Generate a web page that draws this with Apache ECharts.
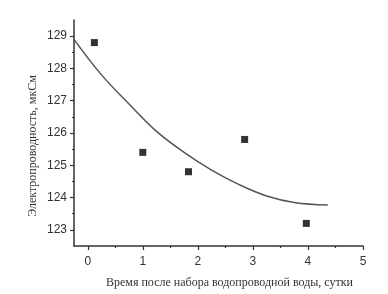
<!DOCTYPE html>
<html>
<head>
<meta charset="utf-8">
<script src="https://cdn.jsdelivr.net/npm/echarts@6/dist/echarts.min.js"></script>
<style>
html, body { margin: 0; padding: 0; background: #fff; }
#chart { width: 388px; height: 294px; }
</style>
</head>
<body>
<div id="chart"></div>
<script>
// измеренные точки
var pointX = [0.12, 1.0, 1.83, 2.85, 3.97];
var pointY = [128.8, 125.4, 124.8, 125.8, 123.2];
// аппроксимирующая кривая
var curveX = [-0.25, 0.25, 0.75, 1.25, 1.75, 2.25, 2.75, 3.25, 3.75, 4.36];
var curveY = [128.9, 127.8, 126.9, 126.05, 125.4, 124.85, 124.4, 124.05, 123.85, 123.77];
// подписи делений
var xTickLabels = [0, 1, 2, 3, 4, 5];
var yTickLabels = [123, 124, 125, 126, 127, 128, 129];
// диапазоны осей
var xRange = [-0.25, 5];
var yRange = [122.5, 129.5];

var xTitle = 'Время после набора водопроводной воды, сутки';
var yTitle = 'Электропроводность, мкСм';

// область построения, px
var L = 74, T = 20, R = 363, B = 246;
var pxX = (R - L) / (xRange[1] - xRange[0]);
var pxY = (B - T) / (yRange[1] - yRange[0]);
var xFirst = xTickLabels[0], xLast = xTickLabels[xTickLabels.length - 1];
var yFirst = yTickLabels[0], yLast = yTickLabels[yTickLabels.length - 1];
// сетка для делений и подписей (совпадает по масштабу с основной)
var g2Left = L + (xFirst - xRange[0]) * pxX;
var g2Right = R - (xRange[1] - xLast) * pxX;
var g2Bottom = B - (yFirst - yRange[0]) * pxY;
var g2Top = T + (yRange[1] - yLast) * pxY;

var axisColor = '#333';
var textColor = '#333';

var myChart = echarts.init(document.getElementById('chart'));

var curveData = [], pointData = [];
for (var i = 0; i < curveX.length; i++) curveData.push([curveX[i], curveY[i]]);
for (var j = 0; j < pointX.length; j++) pointData.push([pointX[j], pointY[j]]);

var option = {
    animation: false,
    backgroundColor: '#fff',
    grid: [
        {left: L, top: T, width: R - L, height: B - T},
        {left: g2Left, top: g2Top, width: g2Right - g2Left, height: g2Bottom - g2Top}
    ],
    xAxis: [
        {
            type: 'value', gridIndex: 0, min: xRange[0], max: xRange[1],
            axisLine: {show: true, onZero: false, lineStyle: {color: axisColor, width: 1.5}},
            axisTick: {show: false}, axisLabel: {show: false}, splitLine: {show: false}
        },
        {
            type: 'value', gridIndex: 1, min: xFirst, max: xLast, interval: 1,
            offset: B - g2Bottom,
            axisLine: {show: false, onZero: false},
            axisTick: {show: true, length: 4, lineStyle: {color: axisColor, width: 1.2}},
            minorTick: {show: true, splitNumber: 2, length: 2, lineStyle: {color: axisColor, width: 1.2}},
            axisLabel: {show: true, margin: 10, color: textColor, fontFamily: 'Liberation Sans', fontSize: 12},
            splitLine: {show: false}
        }
    ],
    yAxis: [
        {
            type: 'value', gridIndex: 0, min: yRange[0], max: yRange[1],
            axisLine: {show: true, onZero: false, lineStyle: {color: axisColor, width: 1.5}},
            axisTick: {show: false}, axisLabel: {show: false}, splitLine: {show: false}
        },
        {
            type: 'value', gridIndex: 1, min: yFirst, max: yLast, interval: 1,
            offset: g2Left - L,
            axisLine: {show: false, onZero: false},
            axisTick: {show: true, length: 4, lineStyle: {color: axisColor, width: 1.2}},
            minorTick: {show: true, splitNumber: 2, length: 2, lineStyle: {color: axisColor, width: 1.2}},
            axisLabel: {show: true, margin: 7, color: textColor, fontFamily: 'Liberation Sans', fontSize: 12},
            splitLine: {show: false}
        }
    ],
    graphic: [
        {
            type: 'text', left: 106, top: 277,
            style: {text: xTitle, fill: textColor, font: '12px "Liberation Serif"'}
        },
        {
            type: 'text', x: 27, y: 146, rotation: Math.PI / 2,
            style: {text: yTitle, fill: textColor, font: '12px "Liberation Serif"', align: 'center', verticalAlign: 'top'}
        }
    ],
    series: [
        {
            name: 'кривая', type: 'line', xAxisIndex: 0, yAxisIndex: 0,
            data: curveData, smooth: 0.4, showSymbol: false,
            lineStyle: {color: '#555', width: 1.5}
        },
        {
            name: 'точки', type: 'scatter', xAxisIndex: 0, yAxisIndex: 0,
            data: pointData, symbol: 'rect', symbolSize: 7,
            itemStyle: {color: '#000'}
        }
    ]
};

myChart.setOption(option);
</script>
</body>
</html>
